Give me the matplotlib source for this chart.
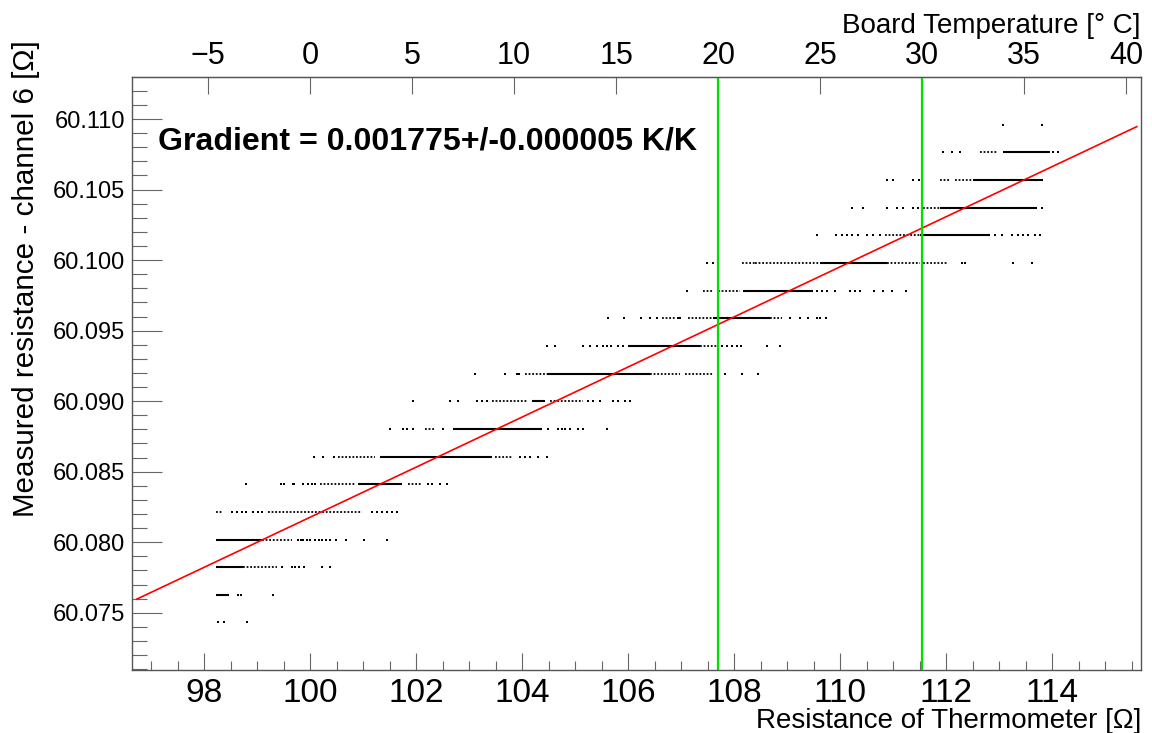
import numpy as np
import matplotlib
matplotlib.use("Agg")
import matplotlib.pyplot as plt
from matplotlib.ticker import MultipleLocator, FormatStrFormatter

plt.rcParams["font.family"] = ["Liberation Sans", "DejaVu Sans"]

# quantised readings of channel 6 [Ohm]
levels = [60.07431, 60.07627, 60.07823, 60.08019, 60.08215, 60.08411, 60.08607,
          60.08803, 60.08999, 60.09195, 60.09391, 60.09587, 60.09783, 60.09980,
          60.10176, 60.10372, 60.10568, 60.10764, 60.10960]

# densely populated stretches of thermometer resistance per level (start, end)
solid_runs = [
    [],
    [(98.22, 98.47)],
    [(98.22, 98.73)],
    [(98.22, 99.09)],
    [],
    [(100.90, 101.73)],
    [(101.32, 103.43)],
    [(102.70, 104.38)],
    [(104.19, 104.43)],
    [(104.47, 106.41)],
    [(106.00, 107.36)],
    [(107.60, 108.68)],
    [(108.17, 109.49)],
    [(109.62, 110.88)],
    [(111.51, 112.83)],
    [(111.88, 113.72)],
    [(112.51, 113.83)],
    [(113.07, 113.96)],
    [],
]

# looser stretches
dotted_runs = [
    [],
    [],
    [(98.73, 99.38)],
    [(99.09, 99.66)],
    [(98.22, 98.34), (99.21, 100.98)],
    [(100.19, 100.85), (101.85, 102.11)],
    [(100.53, 101.22), (103.49, 103.81)],
    [(102.17, 102.36)],
    [(103.43, 104.09), (104.53, 105.15)],
    [(104.06, 104.47), (106.41, 106.98), (107.07, 107.60)],
    [(107.36, 107.68)],
    [(106.64, 106.89), (107.13, 107.60), (108.68, 108.90)],
    [(107.41, 107.60), (107.70, 108.11)],
    [(108.15, 108.39), (108.39, 109.62), (110.88, 111.51), (111.56, 112.04)],
    [(110.85, 111.51)],
    [(111.56, 111.88)],
    [(111.88, 112.07), (112.17, 112.51)],
    [(112.64, 112.98)],
    [],
]

# isolated readings
single_pts = [
    [98.26, 98.38, 98.81],
    [98.64, 98.70, 99.30],
    [99.47, 99.66, 99.72, 99.79, 99.89, 100.23, 100.38],
    [99.77, 99.83, 99.87, 99.94, 100.00, 100.09, 100.17, 100.23, 100.30,
     100.38, 100.49, 100.68, 101.02, 101.45],
    [98.53, 98.62, 98.72, 98.79, 98.92, 99.02, 99.09, 101.17, 101.26,
     101.36, 101.45, 101.55, 101.64],
    [98.79, 99.45, 99.51, 99.68, 99.70, 99.87, 99.96, 100.04, 100.09,
     102.23, 102.30, 102.45, 102.58],
    [100.07, 100.24, 100.45, 103.96, 104.06, 104.15, 104.30, 104.47],
    [101.51, 101.75, 101.83, 101.94, 102.51, 104.49, 104.68, 104.75,
     104.81, 104.90, 105.06, 105.15, 105.60],
    [101.94, 102.64, 102.79, 103.15, 103.24, 103.34, 105.24, 105.34,
     105.47, 105.72, 105.81, 105.94, 106.04],
    [103.11, 103.68, 103.90, 103.94, 107.82, 108.15, 108.45],
    [104.47, 104.62, 105.15, 105.28, 105.42, 105.53, 105.60, 105.68,
     105.81, 105.90, 107.77, 107.87, 107.96, 108.06, 108.13, 108.62, 108.87],
    [105.62, 105.92, 106.24, 106.41, 106.55, 106.94, 106.98, 109.06,
     109.24, 109.40, 109.56, 109.62, 109.73],
    [107.11, 109.56, 109.66, 109.75, 109.90, 110.19, 110.28, 110.38,
     110.64, 110.81, 110.98, 111.24],
    [107.49, 107.60, 112.30, 112.36, 113.26, 113.62],
    [109.56, 109.92, 110.04, 110.13, 110.23, 110.34, 110.51, 110.62,
     110.75, 112.92, 113.05, 113.24, 113.36, 113.45, 113.55, 113.68, 113.77],
    [110.23, 110.43, 110.89, 111.07, 111.19, 111.38, 111.47, 113.81],
    [110.89, 111.00, 111.38, 111.49],
    [111.94, 112.11, 112.26, 114.02, 114.11],
    [113.07, 113.81],
]

# linear fit
fit_slope = 0.001775
fit_offset = 59.90427
fit_range = (96.73, 115.60)

# Pt100 conversion and the temperature markers
r0 = 100.0
alpha = 0.00385
marker_temps = [20, 30]


def r_to_t(r):
    return (np.asarray(r) / r0 - 1.0) / alpha


def t_to_r(t):
    return r0 * (1.0 + alpha * np.asarray(t))


fig = plt.figure(figsize=(11.52, 7.33), dpi=100)
ax = fig.add_axes([0.1146, 0.0859, 0.8759, 0.8091])

for y, runs in zip(levels, solid_runs):
    for a, b in runs:
        ax.hlines(y, a, b, color="black", lw=1.5)
for y, runs in zip(levels, dotted_runs):
    for a, b in runs:
        ax.hlines(y, a, b, color="black", lw=1.3, linestyles=(0, (1, 1.0)))
for y, xs in zip(levels, single_pts):
    ax.plot(xs, [y] * len(xs), ls="none", marker="s", ms=1.5,
            mew=0, color="black")

fx = np.array(fit_range)
ax.plot(fx, fit_offset + fit_slope * fx, color="red", lw=1.2)

for t in marker_temps:
    ax.axvline(t_to_r(t), color="#00e000", lw=1.6)

ax.set_xlim(96.64, 115.68)
ax.set_ylim(60.07094, 60.11298)

ax.xaxis.set_major_locator(MultipleLocator(2))
ax.xaxis.set_minor_locator(MultipleLocator(0.5))
ax.yaxis.set_major_locator(MultipleLocator(0.005))
ax.yaxis.set_minor_locator(MultipleLocator(0.001))
ax.yaxis.set_major_formatter(FormatStrFormatter("%.3f"))

ax.tick_params(axis="x", which="major", direction="in", length=12.2,
               width=0.8, color="#666666", labelsize=24, pad=6)
ax.tick_params(axis="x", which="minor", direction="in", length=6.5,
               width=0.8, color="#666666")
ax.tick_params(axis="y", which="major", direction="in", length=21.6,
               width=0.8, color="#666666", labelsize=17, pad=5)
ax.tick_params(axis="y", which="minor", direction="in", length=10.8,
               width=0.8, color="#666666")
for s in ax.spines.values():
    s.set_color("#555555")
    s.set_linewidth(1.0)

top = ax.secondary_xaxis("top", functions=(r_to_t, t_to_r))
top.xaxis.set_major_locator(MultipleLocator(5))
top.tick_params(axis="x", which="major", direction="in", length=12.2,
                width=0.8, color="#666666", labelsize=22, pad=4)
top.tick_params(axis="x", which="minor", length=0)
top.spines["top"].set_color("#555555")

fig.text(1141 / 1152, 1 - 728 / 733, "Resistance of Thermometer [\u03a9]",
         ha="right", va="baseline", fontsize=20)
fig.text(1141 / 1152, 1 - 33 / 733, "Board Temperature [\u00b0 C]",
         ha="right", va="baseline", fontsize=20)
fig.text(26 / 1152, 1 - 40 / 733, "Measured resistance - channel 6 [\u03a9]",
         rotation=90, ha="center", va="top", fontsize=21.3)
fig.text(158 / 1152, 1 - 150 / 733, "Gradient = 0.001775+/-0.000005 K/K",
         ha="left", va="baseline", fontsize=23.1, fontweight="bold")

fig.savefig("out.png", dpi=100)
